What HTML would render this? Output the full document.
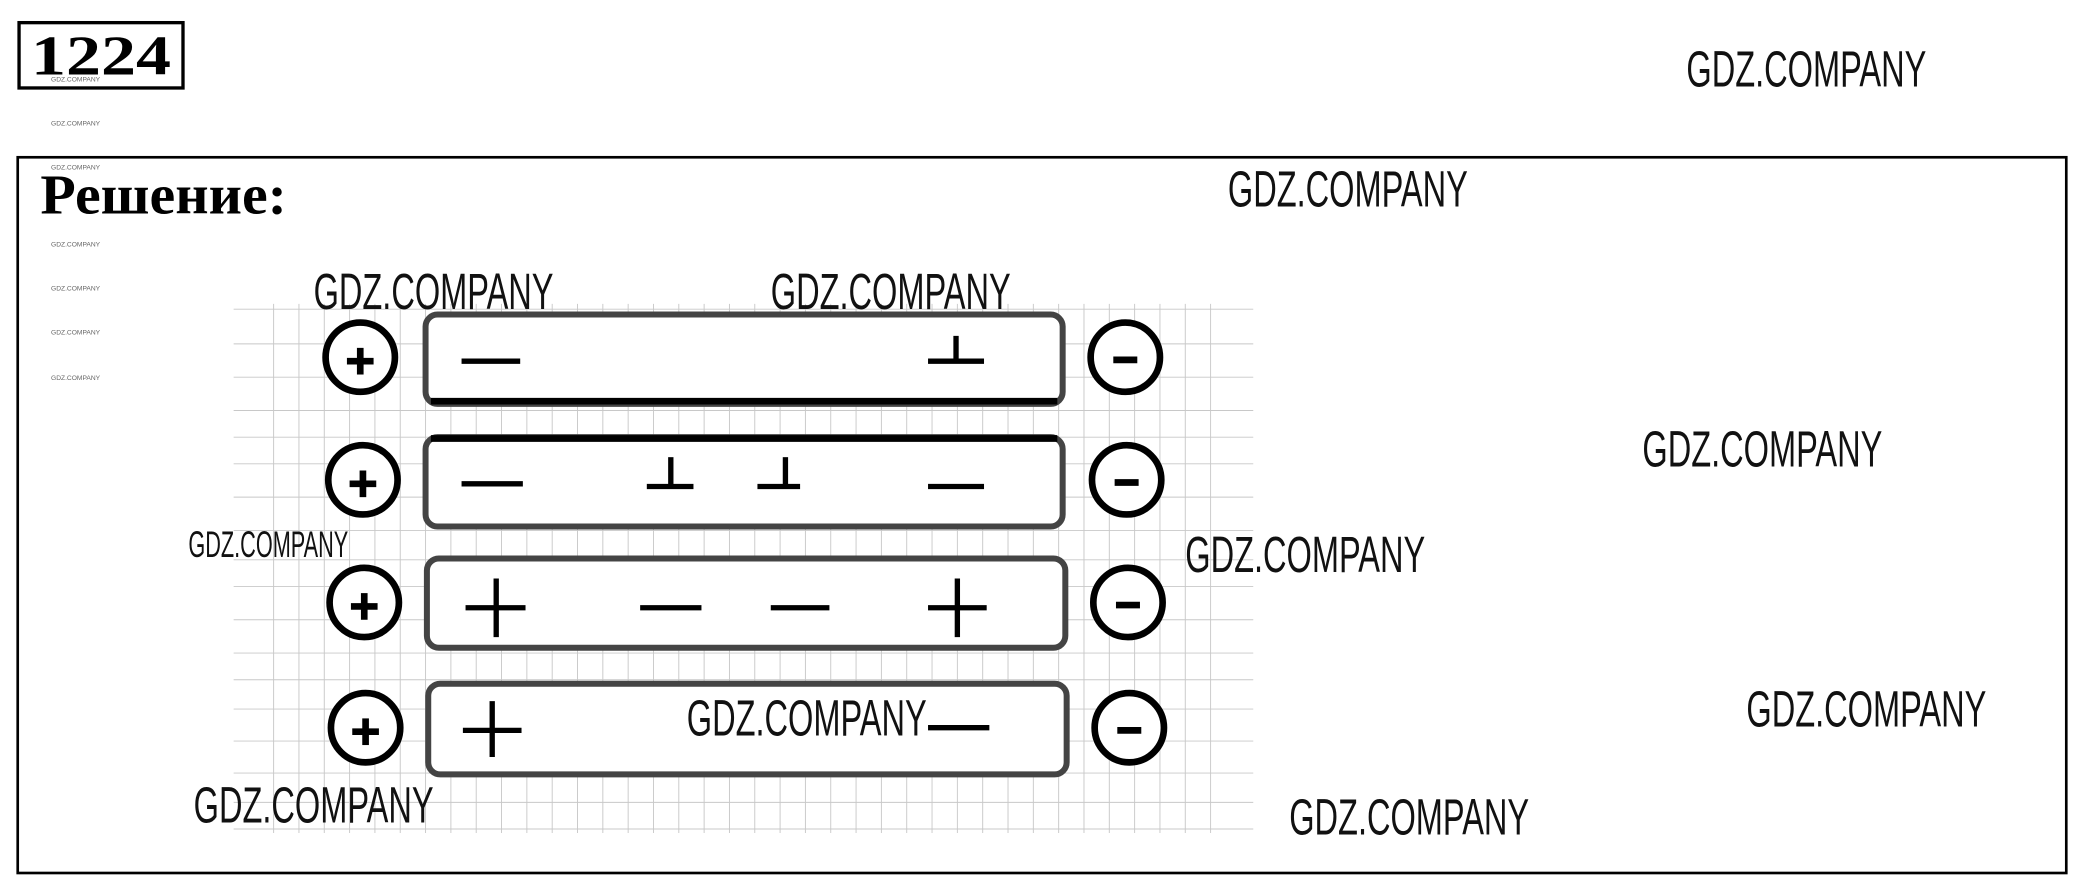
<!DOCTYPE html>
<html><head><meta charset="utf-8"><style>
html,body{margin:0;padding:0;background:#fff;width:2080px;height:881px;overflow:hidden}
svg{display:block}
.wm{font-family:"Liberation Sans",sans-serif;font-size:38px;fill:#111;font-weight:normal}
.tw{font-family:"Liberation Sans",sans-serif;font-size:5px;fill:#666}
</style></head><body>
<svg width="2080" height="881" viewBox="0 0 1560 661" xmlns="http://www.w3.org/2000/svg">
<rect x="0" y="0" width="1560" height="661" fill="#fff"/>
<g stroke="#c8c8c8" stroke-width="0.7">
<line x1="205" y1="228" x2="205" y2="625"/><line x1="224" y1="228" x2="224" y2="625"/><line x1="243" y1="228" x2="243" y2="625"/><line x1="262" y1="228" x2="262" y2="625"/><line x1="281" y1="228" x2="281" y2="625"/><line x1="300" y1="228" x2="300" y2="625"/><line x1="319" y1="228" x2="319" y2="625"/><line x1="338" y1="228" x2="338" y2="625"/><line x1="357" y1="228" x2="357" y2="625"/><line x1="376" y1="228" x2="376" y2="625"/><line x1="395" y1="228" x2="395" y2="625"/><line x1="414" y1="228" x2="414" y2="625"/><line x1="433" y1="228" x2="433" y2="625"/><line x1="452" y1="228" x2="452" y2="625"/><line x1="471" y1="228" x2="471" y2="625"/><line x1="490" y1="228" x2="490" y2="625"/><line x1="509" y1="228" x2="509" y2="625"/><line x1="528" y1="228" x2="528" y2="625"/><line x1="547" y1="228" x2="547" y2="625"/><line x1="566" y1="228" x2="566" y2="625"/><line x1="585" y1="228" x2="585" y2="625"/><line x1="604" y1="228" x2="604" y2="625"/><line x1="623" y1="228" x2="623" y2="625"/><line x1="642" y1="228" x2="642" y2="625"/><line x1="661" y1="228" x2="661" y2="625"/><line x1="680" y1="228" x2="680" y2="625"/><line x1="699" y1="228" x2="699" y2="625"/><line x1="718" y1="228" x2="718" y2="625"/><line x1="737" y1="228" x2="737" y2="625"/><line x1="756" y1="228" x2="756" y2="625"/><line x1="775" y1="228" x2="775" y2="625"/><line x1="794" y1="228" x2="794" y2="625"/><line x1="813" y1="228" x2="813" y2="625"/><line x1="832" y1="228" x2="832" y2="625"/><line x1="851" y1="228" x2="851" y2="625"/><line x1="870" y1="228" x2="870" y2="625"/><line x1="889" y1="228" x2="889" y2="625"/><line x1="908" y1="228" x2="908" y2="625"/>
<line x1="175" y1="232" x2="940" y2="232"/><line x1="175" y1="258" x2="940" y2="258"/><line x1="175" y1="283" x2="940" y2="283"/><line x1="175" y1="308" x2="940" y2="308"/><line x1="175" y1="328" x2="940" y2="328"/><line x1="175" y1="348" x2="940" y2="348"/><line x1="175" y1="373" x2="940" y2="373"/><line x1="175" y1="398" x2="940" y2="398"/><line x1="175" y1="420" x2="940" y2="420"/><line x1="175" y1="440" x2="940" y2="440"/><line x1="175" y1="465" x2="940" y2="465"/><line x1="175" y1="490" x2="940" y2="490"/><line x1="175" y1="510" x2="940" y2="510"/><line x1="175" y1="532" x2="940" y2="532"/><line x1="175" y1="556" x2="940" y2="556"/><line x1="175" y1="580" x2="940" y2="580"/><line x1="175" y1="602" x2="940" y2="602"/><line x1="175" y1="622" x2="940" y2="622"/>
</g>
<rect x="14" y="17" width="123" height="49" fill="none" stroke="#000" stroke-width="2.5"/>
<text x="23" y="56" font-family="Liberation Serif,serif" font-weight="bold" font-size="42" textLength="105" lengthAdjust="spacingAndGlyphs">1224</text>
<rect x="13" y="118" width="1537" height="537" fill="none" stroke="#000" stroke-width="2"/>
<text x="30" y="160" font-family="Liberation Serif,serif" font-weight="bold" font-size="42" textLength="185" lengthAdjust="spacingAndGlyphs">Решение:</text>
<g class="tw"><text x="38" y="61">GDZ.COMPANY</text><text x="38" y="94">GDZ.COMPANY</text><text x="38" y="127">GDZ.COMPANY</text><text x="38" y="185">GDZ.COMPANY</text><text x="38" y="218">GDZ.COMPANY</text><text x="38" y="251">GDZ.COMPANY</text><text x="38" y="285">GDZ.COMPANY</text></g>
<g fill="#fff" stroke="#444" stroke-width="4.5">
<rect x="319" y="236" width="478" height="67" rx="9"/>
<rect x="319" y="328" width="478" height="67" rx="9"/>
<rect x="320" y="419" width="479" height="67" rx="9"/>
<rect x="321" y="513" width="479" height="68" rx="9"/>
</g>
<line x1="323" y1="301" x2="793" y2="301" stroke="#000" stroke-width="5"/>
<line x1="323" y1="329" x2="793" y2="329" stroke="#000" stroke-width="5"/>
<g fill="#fff" stroke="#000" stroke-width="5">
<circle cx="270" cy="268" r="26"/><circle cx="272" cy="360" r="26"/><circle cx="273" cy="452" r="26"/><circle cx="274" cy="546" r="26"/>
<circle cx="844" cy="268" r="26"/><circle cx="845" cy="360" r="26"/><circle cx="846" cy="452" r="26"/><circle cx="847" cy="546" r="26"/>
</g>
<g stroke="#000" stroke-width="5">
<line x1="260" y1="271" x2="280" y2="271"/><line x1="270" y1="261" x2="270" y2="281"/>
<line x1="262" y1="363" x2="282" y2="363"/><line x1="272" y1="353" x2="272" y2="373"/>
<line x1="263" y1="455" x2="283" y2="455"/><line x1="273" y1="445" x2="273" y2="465"/>
<line x1="264" y1="549" x2="284" y2="549"/><line x1="274" y1="539" x2="274" y2="559"/>
<line x1="835" y1="270" x2="853" y2="270"/><line x1="836" y1="362" x2="854" y2="362"/><line x1="837" y1="454" x2="855" y2="454"/><line x1="838" y1="548" x2="856" y2="548"/>
</g>
<g stroke="#000" stroke-width="4">
<line x1="346" y1="271" x2="390" y2="271"/><line x1="696" y1="271" x2="738" y2="271"/><line x1="717" y1="252" x2="717" y2="271"/>
<line x1="346" y1="363" x2="392" y2="363"/><line x1="485" y1="365" x2="520" y2="365"/><line x1="503" y1="343" x2="503" y2="365"/><line x1="568" y1="365" x2="600" y2="365"/><line x1="589" y1="343" x2="589" y2="365"/><line x1="696" y1="365" x2="738" y2="365"/>
<line x1="349" y1="456" x2="394" y2="456"/><line x1="372" y1="434" x2="372" y2="478"/><line x1="480" y1="456" x2="526" y2="456"/><line x1="578" y1="456" x2="622" y2="456"/><line x1="696" y1="456" x2="740" y2="456"/><line x1="718" y1="434" x2="718" y2="478"/>
<line x1="347" y1="548" x2="391" y2="548"/><line x1="369" y1="526" x2="369" y2="568"/><line x1="696" y1="546" x2="742" y2="546"/>
</g>
<g class="wm">
<text x="1265" y="65" textLength="180" lengthAdjust="spacingAndGlyphs">GDZ.COMPANY</text>
<text x="921" y="155" textLength="180" lengthAdjust="spacingAndGlyphs">GDZ.COMPANY</text>
<text x="235" y="232" textLength="180" lengthAdjust="spacingAndGlyphs">GDZ.COMPANY</text>
<text x="578" y="232" textLength="180" lengthAdjust="spacingAndGlyphs">GDZ.COMPANY</text>
<text x="1232" y="350" textLength="180" lengthAdjust="spacingAndGlyphs">GDZ.COMPANY</text>
<text x="141" y="418" font-size="28" textLength="120" lengthAdjust="spacingAndGlyphs">GDZ.COMPANY</text>
<text x="889" y="429" textLength="180" lengthAdjust="spacingAndGlyphs">GDZ.COMPANY</text>
<text x="515" y="552" textLength="180" lengthAdjust="spacingAndGlyphs">GDZ.COMPANY</text>
<text x="1310" y="545" textLength="180" lengthAdjust="spacingAndGlyphs">GDZ.COMPANY</text>
<text x="145" y="617" textLength="180" lengthAdjust="spacingAndGlyphs">GDZ.COMPANY</text>
<text x="967" y="626" textLength="180" lengthAdjust="spacingAndGlyphs">GDZ.COMPANY</text>
</g>
</svg>
</body></html>
